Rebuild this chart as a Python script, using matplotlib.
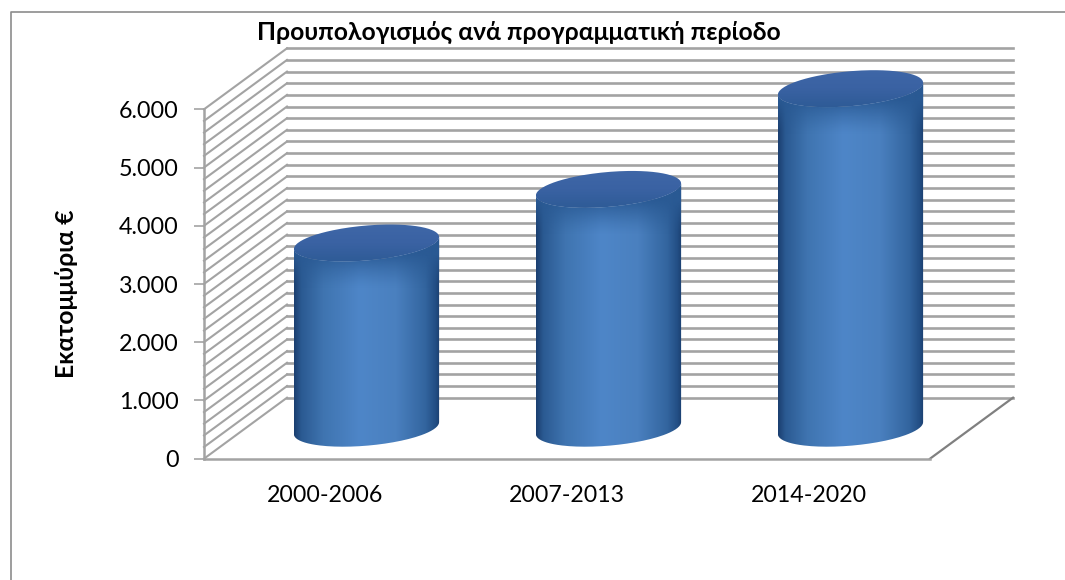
"""Budget per programming period, drawn as a fake 3D cylinder chart."""

import numpy as np
import matplotlib
matplotlib.use("Agg")
import matplotlib.pyplot as plt
from matplotlib.colors import LinearSegmentedColormap, to_rgb
from matplotlib.lines import Line2D
from matplotlib.patches import PathPatch
from matplotlib.path import Path
from matplotlib.transforms import Affine2D

plt.rcParams["font.family"] = ["Lato", "Noto Sans", "DejaVu Sans"]

TITLE = "Προυπολογισμός ανά προγραμματική περίοδο"
YLABEL = "Εκατομμύρια €"
periods = ["2000-2006", "2007-2013", "2014-2020"]
budget = [3180, 4100, 5830]
y_ticks = [0, 1000, 2000, 3000, 4000, 5000, 6000]
y_tick_labels = ["0", "1.000", "2.000", "3.000", "4.000", "5.000", "6.000"]
grid_values = list(range(0, 6001, 200))

W, H = 1065, 580
DEPTH_X, DEPTH_Y = 83, 61
GRID = "#a3a3a3"
SIDE_CMAP = LinearSegmentedColormap.from_list("side", [
    (0.0, "#1b3f70"), (0.05, "#2b5a92"), (0.2, "#3f74b0"), (0.45, "#4e86c8"),
    (0.7, "#4a80bf"), (0.9, "#33659f"), (0.97, "#234f85"), (1.0, "#1b3f70")])
TOP_CMAP = LinearSegmentedColormap.from_list("top", ["#4068a8", "#3a62a3", "#2c5a94"])

fig = plt.figure(figsize=(W / 100, H / 100), dpi=100, facecolor="white")
# only the left and top edge of the chart frame are inside the crop
fig.add_artist(Line2D([11 / W, 11 / W, 1], [0, 1 - 12 / H, 1 - 12 / H], transform=fig.transFigure,
                      color="#8c8c8c", lw=1.2))

# the axes is the front plane of the box, everything behind it gets shifted in pixels
ax = fig.add_axes([204 / W, 1 - 458.7 / H, 726 / W, 349.4 / H])
ax.set_xlim(-0.5, 2.5)
ax.set_ylim(0, 6000)
ax.patch.set_visible(False)
for name in ["top", "right"]:
    ax.spines[name].set_visible(False)
for name in ["left", "bottom"]:
    ax.spines[name].set_color(GRID)
    ax.spines[name].set_linewidth(1.8)
ax.set_xticks(range(len(periods)), periods, fontsize=16.7)
ax.set_yticks(y_ticks, y_tick_labels, fontsize=16.8)
ax.tick_params(axis="x", length=0, pad=19, labelcolor="black")
ax.tick_params(axis="y", length=7, width=1.2, color=GRID, pad=11, labelcolor="black")
ax.set_ylabel(YLABEL, fontsize=17.8, fontweight="bold")
ax.yaxis.set_label_coords((78 - 204) / 726, (458.7 - 294) / 349.4)
fig.text(519 / W, 1 - 32 / H, TITLE, fontsize=17.7, fontweight="bold", ha="center", va="center")

back = ax.transData + Affine2D().translate(DEPTH_X, DEPTH_Y)
mid = ax.transData + Affine2D().translate(DEPTH_X / 2, DEPTH_Y / 2)
unit_per_px = 6000 / 349.4

# back wall and side wall lines
for g in grid_values:
    ax.plot([-0.5, 2.5], [g, g], transform=back, color=GRID, lw=1.9, clip_on=False, zorder=1)
    x0, y0 = ax.transData.transform((-0.5, g))
    ax.plot([x0, x0 + DEPTH_X], [y0, y0 + DEPTH_Y], transform=None, color=GRID, lw=1.5,
            clip_on=False, zorder=1)
x1, y1 = ax.transData.transform((2.5, 0))
ax.plot([x1, x1 + DEPTH_X], [y1, y1 + DEPTH_Y], transform=None, color="#808080", lw=1.6,
        clip_on=False, zorder=1)

half_w = 0.3
full_turn = np.linspace(0, 2 * np.pi, 200)
ry_units = 17.5 * unit_per_px
tilt_units = 6 * unit_per_px


def rim(c, v, a):
    return np.column_stack([c + half_w * np.cos(a), v + ry_units * np.sin(a) + tilt_units * np.cos(a)])


def show_clipped(img, clip, extent, zorder, **kw):
    im = ax.imshow(img, aspect="auto", transform=mid, zorder=zorder, extent=extent, **kw)
    im.set_clip_path(clip)
    im.set_clip_box(fig.bbox)  # images stop at the axes box otherwise
    return im


for i, v in enumerate(budget):
    low = np.linspace(np.pi, 2 * np.pi, 80)
    verts = np.vstack([rim(i, 0, low), rim(i, v, low[::-1])])
    side = PathPatch(Path(verts), transform=mid, facecolor="none", edgecolor="none", zorder=3)
    ax.add_patch(side)
    box = (i - half_w, i + half_w, -600, v + 600)
    show_clipped(np.linspace(0, 1, 256).reshape(1, -1), side, box, 3, cmap=SIDE_CMAP)

    # soft dark band under the top rim, fades out going down
    n = 300
    ys = np.linspace(v + 600, -600, n)
    band = np.zeros((n, 1, 4))
    band[..., :3] = to_rgb("#2a5a94")
    band[:, 0, 3] = 0.95 * np.clip(1 - (v - 200 - ys) / (34 * unit_per_px), 0, 1) ** 1.3
    show_clipped(band, side, box, 3.5)

    top = PathPatch(Path(rim(i, v, full_turn)), transform=mid, facecolor="none", edgecolor="none", zorder=4)
    ax.add_patch(top)
    show_clipped(np.linspace(0, 1, 64).reshape(-1, 1), top,
                 (i - half_w, i + half_w, v - ry_units * 1.3, v + ry_units * 1.3), 4, cmap=TOP_CMAP)

# imshow resets the limits
ax.set_xlim(-0.5, 2.5)
ax.set_ylim(0, 6000)

fig.savefig("out.png", dpi=100)
